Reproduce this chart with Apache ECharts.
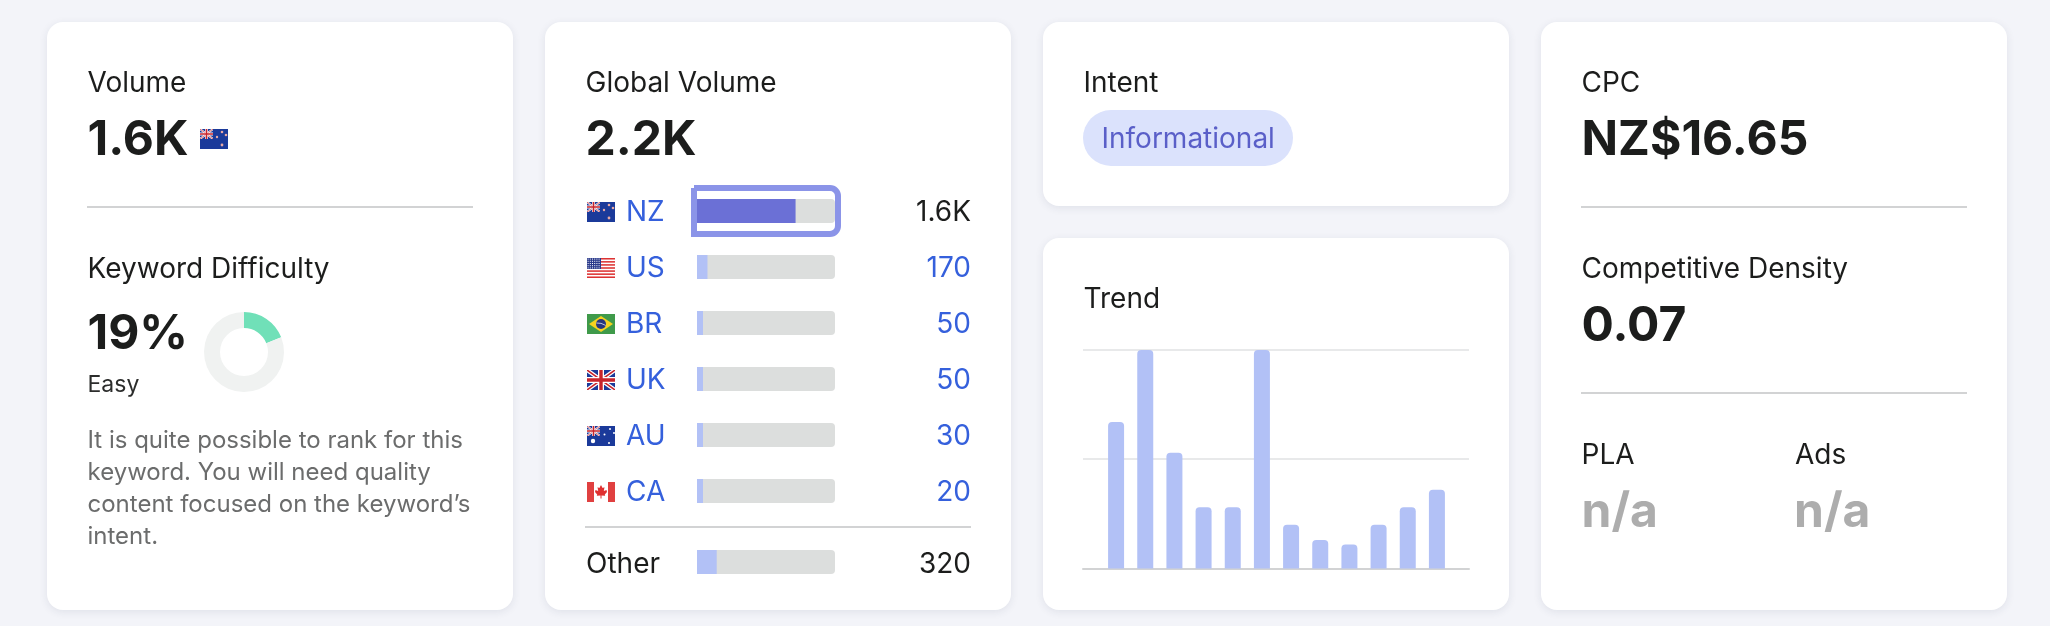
<!DOCTYPE html>
<html>
<head>
<meta charset="utf-8">
<title>Keyword overview</title>
<script src="https://cdn.jsdelivr.net/npm/echarts@6/dist/echarts.min.js"></script>
<style>
html,body{margin:0;padding:0;background:#f3f4f9;}
#chart{width:2050px;height:626px;}
</style>
</head>
<body>
<div id="chart"></div>
<script>
// Keyword metrics
const countryCodes = ['NZ', 'US', 'BR', 'UK', 'AU', 'CA'];
const countryVolumes = [1600, 170, 50, 50, 30, 20];
const countryLabels = ['1.6K', '170', '50', '50', '30', '20'];
const otherCode = ['Other'];
const otherVolumes = [320];
const otherLabels = ['320'];
const globalVolumeScale = 2240;
const difficultyPercent = [19, 81];
const trendMonths = ['M1', 'M2', 'M3', 'M4', 'M5', 'M6', 'M7', 'M8', 'M9', 'M10', 'M11', 'M12'];
const trendValues = [67, 100, 53, 28, 28, 100, 20, 13, 11, 20, 28, 36];
const difficultyNote = [
  'It is quite possible to rank for this',
  'keyword. You will need quality',
  'content focused on the keyword\u2019s',
  'intent.'
];

const FONT = 'Inter, "Noto Sans", sans-serif';
const INK = '#1c1d1c';
const LINK = '#3560dc';
const TRACK = '#dcdedd';
const SOFT_BAR = '#b2c1f6';
const STRONG_BAR = '#6b70d6';
const RULE = '#d2d3d4';

// Small flags as inline vector images
const jack = (w, h) => `
  <svg x="0" y="0" width="${w}" height="${h}" viewBox="0 0 28 20" preserveAspectRatio="none">
    <rect width="28" height="20" fill="#1b3a9a"/>
    <path d="M0 0L28 20M28 0L0 20" stroke="#fff" stroke-width="4"/>
    <path d="M0 0L28 20M28 0L0 20" stroke="#c8242c" stroke-width="1.5"/>
    <path d="M14 0V20M0 10H28" stroke="#fff" stroke-width="6"/>
    <path d="M14 0V20M0 10H28" stroke="#c8242c" stroke-width="3.4"/>
  </svg>`;
const svgFlag = body => 'data:image/svg+xml;utf8,' + encodeURIComponent(
  `<svg xmlns="http://www.w3.org/2000/svg" width="28" height="20" viewBox="0 0 28 20">${body}</svg>`);
const usStripes = Array.from({length: 7}, (_, i) =>
  `<rect y="${i * 20 / 6.5}" width="28" height="${20 / 13}" fill="#dd3333"/>`).join('');
const usDots = Array.from({length: 30}, (_, i) =>
  `<rect x="${0.6 + (i % 6) * 2.2}" y="${0.6 + Math.floor(i / 6) * 2.2}" width="1" height="1" fill="#fff"/>`).join('');
const flags = {
  NZ: svgFlag(`<rect width="28" height="20" fill="#1b3a9a"/>${jack(13, 10)}
    <g fill="#e8a9a4"><circle cx="22" cy="3" r="1.3"/><circle cx="26" cy="6" r="1.3"/><circle cx="17" cy="8" r="1.2"/><circle cx="22" cy="16" r="1.4"/></g>`),
  US: svgFlag(`<rect width="28" height="20" fill="#fff"/>${usStripes}<rect width="14" height="11" fill="#2b3b8c"/>${usDots}`),
  BR: svgFlag(`<rect width="28" height="20" fill="#3f9a4a"/><path d="M14 2L26 10L14 18L2 10Z" fill="#f6d21f"/>
    <circle cx="14" cy="10" r="5" fill="#27367f"/><path d="M9.4 9Q14 8.5 18.6 11.4" stroke="#fff" stroke-width=".7" fill="none"/>`),
  UK: svgFlag(jack(28, 20)),
  AU: svgFlag(`<rect width="28" height="20" fill="#1b3a9a"/>${jack(13, 10)}
    <g fill="#fff"><circle cx="6" cy="15" r="2.2"/><circle cx="23" cy="3" r="1"/><circle cx="27" cy="7" r="1"/><circle cx="17.5" cy="8.5" r="1"/><circle cx="22" cy="17" r="1"/></g>`),
  CA: svgFlag(`<rect width="28" height="20" fill="#fff"/><rect width="7" height="20" fill="#e04040"/><rect x="21" width="7" height="20" fill="#e04040"/>
    <path d="M14 3L15.6 6L17.5 5.2L16.8 9L19.5 8L20 10L17.8 12.4L18.2 13.8L14.5 13.4V16.6H13.5V13.4L9.8 13.8L10.2 12.4L8 10L8.5 8L11.2 9L10.5 5.2L12.4 6Z" fill="#e03030"/>`)
};

// Text placed by its baseline
const label = (text, x, baseline, size, color, weight) => ({
  type: 'text',
  z: 10,
  x,
  y: baseline - 0.3 * size,
  silent: true,
  style: {
    text,
    fill: color || INK,
    font: `${weight || 400} ${size}px ${FONT}`,
    textAlign: 'left',
    textVerticalAlign: 'middle'
  }
});
const card = (x, y, width, height) => ({
  type: 'rect',
  z: 0,
  silent: true,
  shape: {x, y, width, height, r: 16},
  style: {fill: '#ffffff', shadowBlur: 8, shadowOffsetY: 2, shadowColor: 'rgba(30,40,80,0.09)'}
});
const rule = (x, y, width) => ({
  type: 'rect',
  z: 1,
  silent: true,
  shape: {x, y, width, height: 2},
  style: {fill: RULE}
});
const flag = (code, x, y) => ({
  type: 'image',
  z: 10,
  silent: true,
  style: {image: flags[code], x, y, width: 28, height: 20}
});

const TITLE = 28;
const BIG = 48;

const graphics = [
  card(47, 22, 466, 588),
  card(545, 22, 466, 588),
  card(1043, 22, 466, 184),
  card(1043, 238, 466, 372),
  card(1541, 22, 466, 588),

  label('Volume', 87.5, 92, TITLE),
  label('1.6K', 87.5, 155, BIG, INK, 700),
  flag('NZ', 200, 129),
  rule(87, 206, 386),
  label('Keyword Difficulty', 87.5, 278, TITLE),
  label('19%', 87.5, 349, BIG, INK, 700),
  label('Easy', 87.5, 392, 23, '#2c2d2c'),

  label('Global Volume', 585.5, 92, TITLE),
  label('2.2K', 585.5, 155, BIG, INK, 700),
  rule(585, 526, 386),
  {
    type: 'rect',
    z: 10,
    silent: true,
    shape: {x: 694, y: 188, width: 144, height: 46, r: [0, 8, 8, 0]},
    style: {fill: 'none', stroke: '#8b94e8', lineWidth: 6}
  },

  label('Intent', 1083.5, 92, TITLE),
  {
    type: 'rect',
    z: 1,
    silent: true,
    shape: {x: 1083, y: 110, width: 210, height: 56, r: 28},
    style: {fill: '#dbe2fc'}
  },
  label('Informational', 1101.5, 148, TITLE, '#5a5fc8'),
  label('Trend', 1083.5, 308, TITLE),

  label('CPC', 1581.5, 92, TITLE),
  label('NZ$16.65', 1581.5, 155, BIG, INK, 700),
  rule(1581, 206, 386),
  label('Competitive Density', 1581.5, 278, TITLE),
  label('0.07', 1581.5, 341, BIG, INK, 700),
  rule(1581, 392, 386),
  label('PLA', 1581.5, 464, TITLE),
  label('Ads', 1795, 464, TITLE),
  label('n/a', 1581.5, 527, BIG, '#adadad', 700),
  label('n/a', 1794, 527, BIG, '#adadad', 700)
];
difficultyNote.forEach((line, i) => graphics.push(label(line, 87.5, 448 + i * 32, 24, '#6b6c6c')));
countryCodes.forEach((code, i) => graphics.push(flag(code, 587, 202 + i * 56)));

const hiddenValueAxis = (gridIndex, max) => ({
  type: 'value',
  gridIndex,
  min: 0,
  max,
  show: false
});
// Row labels hang from the band centre; the line height sets how far below it they sit
const rowAxes = (gridIndex, codes, labels, leftMargin, leftColor, rightColor, drop) => [
  {
    type: 'category',
    gridIndex,
    inverse: true,
    data: codes,
    position: 'left',
    axisLine: {show: false},
    axisTick: {show: false},
    axisLabel: {
      margin: leftMargin,
      align: 'left',
      verticalAlign: 'top',
      lineHeight: drop * 2,
      color: leftColor,
      fontFamily: FONT,
      fontSize: TITLE
    }
  },
  {
    type: 'category',
    gridIndex,
    inverse: true,
    data: codes,
    position: 'right',
    axisLine: {show: false},
    axisTick: {show: false},
    axisLabel: {
      margin: 136,
      align: 'right',
      verticalAlign: 'top',
      lineHeight: drop * 2,
      color: (v, i) => rightColor(i),
      fontFamily: FONT,
      fontSize: TITLE,
      formatter: (v, i) => labels[i]
    }
  }
];
const rowSeries = (axisIndex, yAxisIndex, values, colorOf) => ({
  type: 'bar',
  xAxisIndex: axisIndex,
  yAxisIndex,
  data: values.map((value, i) => ({value, itemStyle: {color: colorOf(i)}})),
  barWidth: 24,
  barMinHeight: 6,
  showBackground: true,
  backgroundStyle: {color: TRACK, borderRadius: 4},
  silent: true
});

const option = {
  animation: false,
  backgroundColor: '#f3f4f9',
  textStyle: {fontFamily: FONT},
  graphic: {elements: graphics},
  grid: [
    {left: 697, top: 183, width: 138, height: 336},
    {left: 697, top: 550, width: 138, height: 24},
    {left: 1083, top: 349.5, width: 386, height: 219},
    {left: 1101.5, top: 350, width: 350, height: 218.5}
  ],
  xAxis: [
    hiddenValueAxis(0, globalVolumeScale),
    hiddenValueAxis(1, globalVolumeScale),
    {
      type: 'category',
      gridIndex: 2,
      data: trendMonths,
      axisLine: {lineStyle: {color: RULE, width: 2}},
      axisTick: {show: false},
      axisLabel: {show: false}
    },
    {
      type: 'category',
      gridIndex: 3,
      data: trendMonths,
      axisLine: {show: false},
      axisTick: {show: false},
      axisLabel: {show: false}
    }
  ],
  yAxis: [
    ...rowAxes(0, countryCodes, countryLabels, 71, LINK, i => (i === 0 ? INK : LINK), 1.5),
    ...rowAxes(1, otherCode, otherLabels, 111, INK, () => INK, 2.5),
    {
      type: 'value',
      gridIndex: 2,
      min: 0,
      max: 100,
      interval: 50,
      axisLine: {show: false},
      axisTick: {show: false},
      axisLabel: {show: false},
      splitLine: {lineStyle: {color: '#e8e9ea', width: 2}}
    },
    {
      type: 'value',
      gridIndex: 3,
      min: 0,
      max: 100,
      interval: 50,
      show: false,
      splitLine: {show: false}
    }
  ],
  series: [
    rowSeries(0, 0, countryVolumes, i => (i === 0 ? STRONG_BAR : SOFT_BAR)),
    rowSeries(1, 2, otherVolumes, () => SOFT_BAR),
    {
      type: 'bar',
      xAxisIndex: 3,
      yAxisIndex: 5,
      data: trendValues,
      barWidth: 16,
      silent: true,
      itemStyle: {color: SOFT_BAR, borderRadius: [4, 4, 0, 0]}
    },
    {
      type: 'pie',
      center: [244, 352],
      radius: [24, 40],
      startAngle: 90,
      clockwise: true,
      silent: true,
      label: {show: false},
      labelLine: {show: false},
      data: [
        {value: difficultyPercent[0], name: 'Difficulty', itemStyle: {color: '#70e0b8'}},
        {value: difficultyPercent[1], name: 'Remaining', itemStyle: {color: '#f0f2f1'}}
      ]
    }
  ]
};

const chart = echarts.init(document.getElementById('chart'));
chart.setOption(option);
</script>
</body>
</html>
